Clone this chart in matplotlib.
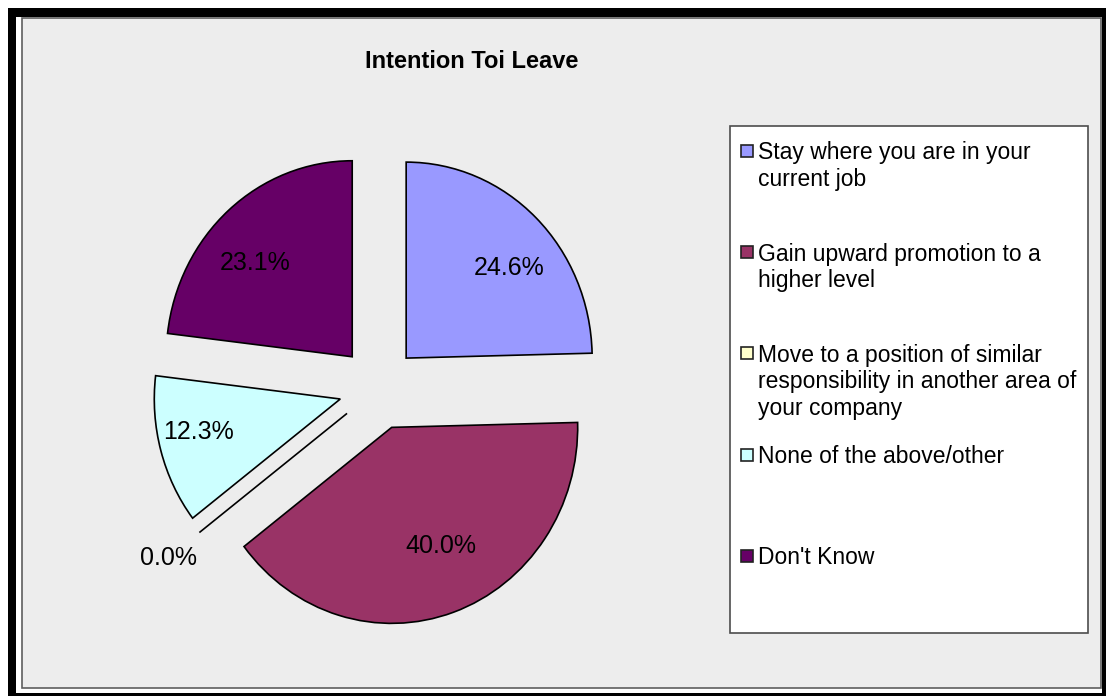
import matplotlib
matplotlib.use("Agg")
import matplotlib.pyplot as plt
import numpy as np
from matplotlib.patches import Rectangle

plt.rcParams['font.family'] = ['Liberation Sans', 'DejaVu Sans']

title = "Intention Toi Leave"
categories = [
    "Stay where you are in your\ncurrent job",
    "Gain upward promotion to a\nhigher level",
    "Move to a position of similar\nresponsibility in another area of\nyour company",
    "None of the above/other",
    "Don't Know",
]
shares = [24.6, 40.0, 0.0, 12.3, 23.1]
colors = ["#9999FF", "#993366", "#FFFFCC", "#CCFFFF", "#660066"]

W, H = 1106, 696
fig = plt.figure(figsize=(W / 100, H / 100), dpi=100)

# background layer in pixel coordinates (y grows downward)
bg = fig.add_axes([0, 0, 1, 1])
bg.set_xlim(0, W)
bg.set_ylim(H, 0)
bg.axis("off")
bg.add_patch(Rectangle((8, 8), W, H, facecolor="black", edgecolor="none"))
bg.add_patch(Rectangle((16, 17), 1085.5, 676, facecolor="white", edgecolor="none"))
bg.add_patch(Rectangle((21.5, 17.5), 1079, 670, facecolor="#EDEDED",
                       edgecolor="#5F5F5F", linewidth=1.2))

bg.text(471.5, 61, title, ha="center", va="center", fontsize=17,
        fontweight="bold", color="black")

# legend box drawn by hand, entries spread evenly like the spreadsheet legend
bg.add_patch(Rectangle((730, 126), 358, 506.5, facecolor="white",
                       edgecolor="#4D4D4D", linewidth=1.2))
entry_y0, entry_step, line_step = 153, 101.2, 26.3
for i, (label, col) in enumerate(zip(categories, colors)):
    y = entry_y0 + i * entry_step
    bg.add_patch(Rectangle((741, y - 8), 12, 12, facecolor=col,
                           edgecolor="#222222", linewidth=1.2))
    for j, line in enumerate(label.split("\n")):
        bg.text(758, y + j * line_step, line, ha="left", va="center",
                fontsize=16.5, color="black")

# pie axes, slightly taller than wide
cx, cy, rx, ry = 378.5, 388, 186, 196
ax = fig.add_axes([(cx - 1.5 * rx) / W, (H - cy - 1.5 * ry) / H,
                   3 * rx / W, 3 * ry / H])
ax.patch.set_alpha(0)

wedges, texts, autotexts = ax.pie(
    shares, colors=colors, startangle=90, counterclock=False,
    explode=[0.213] * len(shares), autopct="%1.1f%%", pctdistance=0.72,
    wedgeprops=dict(edgecolor="black", linewidth=1.2),
    textprops=dict(fontsize=18, color="black"))

# labels sit a little flatter than the mid-angle; the empty slice goes outside
for w, t, v in zip(wedges, autotexts, shares):
    ang = np.deg2rad((w.theta1 + w.theta2) / 2)
    if v == 0:
        kx, ky = 1.21, 1.21
    else:
        kx, ky = 0.79, 0.64
    t.set_position((w.center[0] + kx * np.cos(ang),
                    w.center[1] + ky * np.sin(ang)))

ax.set_aspect("auto")
ax.set_xlim(-1.5, 1.5)
ax.set_ylim(-1.5, 1.5)
ax.axis("off")

fig.savefig("out.png", dpi=100)
